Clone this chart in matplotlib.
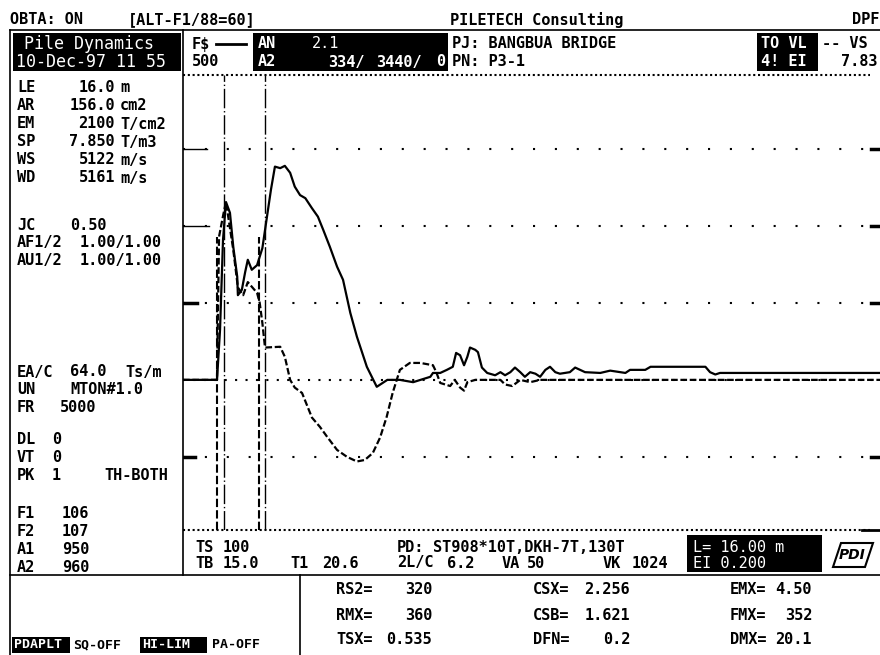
import matplotlib
matplotlib.use("Agg")
import matplotlib.pyplot as plt
from matplotlib.patches import Rectangle, Polygon

# force trace (ms, screen units: 100 per grid division)
force_t = [0, 5.14, 5.6, 6.05, 6.5, 7.1, 7.6, 8.2, 8.3, 8.9, 9.4, 9.8, 10.4, 11.2, 12.0,
           12.7, 13.3, 13.9, 14.7, 15.4, 16.2, 16.9, 17.7, 18.5, 19.5, 20.4, 21.2, 22.2,
           23.3, 24.2, 25.3, 26.3, 27.8, 29.3, 30.9, 32.8, 34.8, 37.4, 37.8, 38.9, 39.9,
           40.8, 41.3, 41.9, 42.5, 43.0, 43.4, 44.2, 44.6, 45.2, 46.0, 47.2, 48.0, 48.7,
           49.5, 50.2, 51.0, 51.7, 52.5, 53.3, 54.0, 54.8, 55.5, 56.3, 57.0, 58.5, 59.3,
           60.8, 63.1, 64.6, 66.9, 67.6, 69.9, 70.7, 79.0, 79.7, 80.5, 81.2, 105.4]
force_v = [0, 0, 65, 182, 231, 217, 173, 134, 110, 117, 140, 156, 143, 149, 171,
           212, 247, 277, 275, 278, 269, 251, 240, 236, 223, 212, 195, 173,
           147, 130, 87, 56, 17, -9, 0, 0, -3, 4, 9, 9, 13,
           17, 35, 32, 19, 30, 42, 39, 36, 16, 9, 6, 10, 6,
           10, 16, 10, 4, 10, 8, 4, 13, 17, 10, 8, 10, 16,
           10, 9, 12, 9, 13, 13, 17, 17, 10, 7, 9, 9]

# velocity * impedance trace
vel_t = [0, 5.14, 5.45, 6.1, 6.5, 7.6, 8.3, 9.1, 9.8, 10.4, 11.2, 11.6, 12.0, 12.4, 14.7,
         15.4, 16.2, 16.9, 18.0, 19.5, 20.7, 21.8, 23.3, 24.8, 26.3, 27.5, 28.7, 29.8,
         30.8, 31.7, 32.8, 34.3, 35.9, 37.8, 38.3, 38.9, 40.4, 41.1, 41.9, 42.5, 43.0,
         44.2, 48.0, 48.7, 49.8, 51.0, 52.5, 54.0, 105.4]
vel_v = [0, 0, 186, 215, 231, 169, 120, 110, 127, 121, 113, 100, 74, 42, 43,
         30, 0, -10, -17, -49, -61, -74, -91, -100, -106, -104, -95, -75,
         -48, -17, 13, 22, 22, 19, 10, -4, -8, 0, -10, -14, -3,
         0, 0, -6, -8, 0, -3, 0, 0]

marker_t = [6.2, 12.4]
ghost_t = [5.2, 11.5]
ghost_top = 186
grid_v = [100, 200, 300, -100]

# pile parameters (left panel)
pile_labels = ["LE", "AR", "EM", "SP", "WS", "WD"]
pile_values = ["16.0", "156.0", "2100", "7.850", "5122", "5161"]
pile_units = ["m", "cm2", "T/cm2", "T/m3", "m/s", "m/s"]

# results
res_labels = [["RS2=", "RMX=", "TSX="], ["CSX=", "CSB=", "DFN="], ["EMX=", "FMX=", "DMX="]]
res_values = [["320", "360", "0.535"], ["2.256", "1.621", "0.2"], ["4.50", "352", "20.1"]]

FONT = "DejaVu Sans Mono"

fig = plt.figure(figsize=(8.8, 6.55), dpi=100)
bg = fig.add_axes([0, 0, 1, 1])
bg.set_xlim(0, 880)
bg.set_ylim(655, 0)
bg.axis("off")


def txt(x, y, s, color="black", ha="left", size=11, weight="bold"):
    bg.text(x, y, s, ha=ha, va="center", fontsize=size, fontweight=weight,
            family=FONT, color=color)


def box(x0, y0, x1, y1):
    bg.add_patch(Rectangle((x0, y0), x1 - x0, y1 - y0, facecolor="black", edgecolor="none"))


# frame
bg.plot([10, 880], [30, 30], color="black", lw=1.2)
bg.plot([10, 10], [30, 655], color="black", lw=1.2)
bg.plot([183, 183], [30, 575], color="black", lw=1.2)
bg.plot([10, 880], [575, 575], color="black", lw=1.2)
bg.plot([300, 300], [575, 655], color="black", lw=1.2)
bg.plot([183, 870], [75, 75], color="black", lw=1.5, ls=(0, (1, 1.3)))
bg.plot([183, 870], [530, 530], color="black", lw=1.5, ls=(0, (1, 1.3)))
bg.plot([862, 880], [530, 530], color="black", lw=2)

# top line
txt(10, 20, "OBTA: ON")
txt(128, 20, "[ALT-F1/88=60]")
txt(450, 20, "PILETECH Consulting")
txt(879, 20, "DPF", ha="right")

# header
box(13, 33, 181, 71)
txt(24, 44, "Pile Dynamics", color="white", weight="normal", size=12)
txt(16, 62, "10-Dec-97 11 55", color="white", weight="normal", size=12)
txt(192, 44, "F$")
bg.plot([216, 246], [44, 44], color="black", lw=2)
txt(192, 62, "500")
box(253, 33, 448, 71)
txt(258, 44, "AN", color="white")
txt(312, 44, "2.1", color="white", weight="normal")
txt(258, 62, "A2", color="white")
txt(328, 62, "334/", color="white")
txt(376, 62, "3440/", color="white")
txt(445, 62, "0", color="white", ha="right")
txt(452, 44, "PJ: BANGBUA BRIDGE")
txt(452, 62, "PN: P3-1")
box(757, 33, 818, 71)
txt(761, 44, "TO VL", color="white")
txt(761, 62, "4! EI", color="white")
txt(822, 44, "-- VS")
txt(878, 62, "7.83", ha="right")

# left panel
for i, (lab, val, unit) in enumerate(zip(pile_labels, pile_values, pile_units)):
    y = 88 + 18 * i
    txt(17, y, lab)
    txt(115, y, val, ha="right")
    txt(120, y, unit)
txt(17, 225, "JC")
txt(70, 225, "0.50")
txt(17, 243, "AF1/2")
txt(80, 243, "1.00/1.00")
txt(17, 261, "AU1/2")
txt(80, 261, "1.00/1.00")
txt(17, 372, "EA/C")
txt(70, 372, "64.0")
txt(125, 372, "Ts/m")
txt(17, 390, "UN")
txt(70, 390, "MTON#1.0")
txt(17, 408, "FR")
txt(60, 408, "5000")
txt(17, 440, "DL")
txt(52, 440, "0")
txt(17, 458, "VT")
txt(52, 458, "0")
txt(17, 476, "PK")
txt(52, 476, "1")
txt(104, 476, "TH-BOTH")
for i, (lab, val) in enumerate(zip(["F1", "F2", "A1", "A2"], ["106", "107", "950", "960"])):
    y = 513 + 18 * i
    txt(17, y, lab)
    txt(62, y, val)

# info strip under the plot
txt(195, 547, "TS")
txt(223, 547, "100")
txt(195, 563, "TB")
txt(223, 563, "15.0")
txt(290, 563, "T1")
txt(322, 563, "20.6")
txt(397, 547, "PD:")
txt(433, 547, "ST908*10T,DKH-7T,130T")
txt(397, 563, "2L/C")
txt(447, 563, "6.2")
txt(502, 563, "VA")
txt(527, 563, "50")
txt(603, 563, "VK")
txt(632, 563, "1024")
box(687, 535, 822, 572)
txt(693, 547, "L= 16.00 m", color="white", weight="normal")
txt(693, 563, "EI 0.200", color="white", weight="normal")
bg.add_patch(Polygon([[833, 567], [841, 543], [873, 543], [865, 567]], closed=True,
                     facecolor="none", edgecolor="black", lw=1.5))
bg.text(852, 555, "PDI", ha="center", va="center", fontsize=10, fontweight="bold",
        style="italic", family="DejaVu Sans")

# results
col_x = [336, 533, 730]
val_x = [432, 630, 812]
for c in range(3):
    for r in range(3):
        y = 590 + 25 * r
        txt(col_x[c], y, res_labels[c][r])
        txt(val_x[c], y, res_values[c][r], ha="right")

# status bar
box(12, 637, 70, 653)
txt(14, 645, "PDAPLT", color="white", size=9.5)
txt(73, 645, "SQ-OFF", size=9.5)
box(140, 637, 207, 653)
txt(142, 645, "HI-LIM", color="white", size=9.5)
txt(212, 645, "PA-OFF", size=9.5)

# trace area
pa = fig.add_axes([183 / 880, (655 - 530) / 655, (880 - 183) / 880, (530 - 75) / 655])
pa.set_xlim(0, 105.4)
pa.set_ylim(-195, 396)
pa.axis("off")

for g in grid_v:
    pa.plot([0, 105.4], [g, g], color="black", lw=1.5, ls=(0, (1, 9.5)))
pa.plot([0, 105.4], [0, 0], color="black", lw=1.5, ls=(0, (1, 4)))
# left and right grid ticks
for g, w, lw in zip(grid_v, [2.1, 4.0, 3.6, 1.8], [2.5, 1, 1, 2.5]):
    pa.plot([0, w], [g, g], color="black", lw=lw)
    pa.plot([104, 105.4], [g, g], color="black", lw=2.5)

for m in marker_t:
    pa.plot([m, m], [-195, 396], color="black", lw=1, ls=(0, (14, 2, 1, 2)))
for m in ghost_t:
    pa.plot([m, m], [-195, ghost_top], color="black", lw=1.5, ls=(0, (4, 1.5)))

pa.plot(vel_t, vel_v, color="black", lw=1.6, ls=(0, (3, 1.2)))
pa.plot(force_t, force_v, color="black", lw=1.6)

fig.savefig("out.png", dpi=100, facecolor="white")
